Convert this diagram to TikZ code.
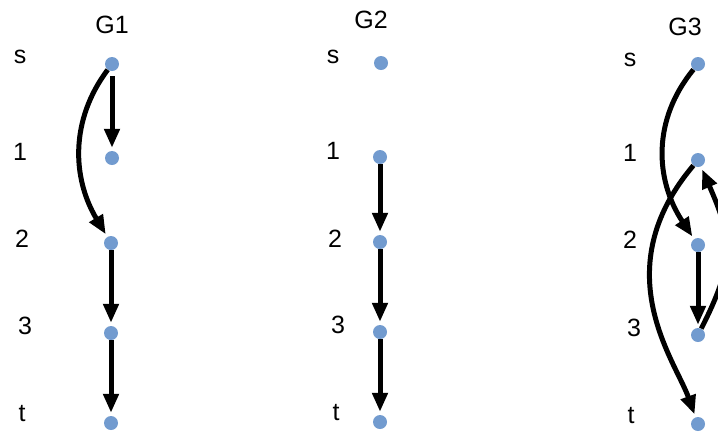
\documentclass[tikz,border=0pt]{standalone}
\usepackage{fontspec}
\setmainfont{Liberation Sans}
\usetikzlibrary{arrows.meta}
\definecolor{dotblue}{RGB}{114,155,207}
\begin{document}
\begin{tikzpicture}[x=1bp,y=-1bp,
  dot/.style={circle,fill=dotblue,inner sep=0pt,minimum size=14bp},
  lbl/.style={font=\fontsize{25bp}{30bp}\selectfont,inner sep=0pt,anchor=center},
  edge/.style={line width=5bp,-{Triangle[length=19bp,width=15bp]},shorten >=3bp}]
\useasboundingbox (0,0) rectangle (718,432);
% G1
\node[lbl] (g1) at (112,25) {G1};
\node[lbl] (l1s) at (20,57) {s};
\node[lbl] (l11) at (20,152) {1};
\node[lbl] (l12) at (22,239) {2};
\node[lbl] (l13) at (25,326) {3};
\node[lbl] (l1t) at (22,414) {t};
\node[dot] (as) at (112,64) {};
\node[dot] (a1) at (112,158) {};
\node[dot] (a2) at (111,243) {};
\node[dot] (a3) at (111,333) {};
\node[dot] (at) at (111,423) {};
\draw[edge,shorten <=5bp] (as) -- (a1);
\draw[edge] (as) .. controls (70,120) and (72,178) .. (a2);
\draw[edge] (a2) -- (a3);
\draw[edge] (a3) -- (at);
% G2
\node[lbl] (g2) at (371,20) {G2};
\node[lbl] (l2s) at (333,57) {s};
\node[lbl] (l21) at (333,151) {1};
\node[lbl] (l22) at (335,239) {2};
\node[lbl] (l23) at (338,325) {3};
\node[lbl] (l2t) at (336,413) {t};
\node[dot] (bs) at (381,63) {};
\node[dot] (b1) at (380,157) {};
\node[dot] (b2) at (380,242) {};
\node[dot] (b3) at (380,332) {};
\node[dot] (bt) at (380,422) {};
\draw[edge] (b1) -- (b2);
\draw[edge] (b2) -- (b3);
\draw[edge] (b3) -- (bt);
% G3
\node[lbl] (g3) at (685,27) {G3};
\node[lbl] (l3s) at (630,60) {s};
\node[lbl] (l31) at (630,153) {1};
\node[lbl] (l32) at (630,240) {2};
\node[lbl] (l33) at (634,328) {3};
\node[lbl] (l3t) at (631,416) {t};
\node[dot] (cs) at (698,64) {};
\node[dot] (c1) at (698,160) {};
\node[dot] (c2) at (698,245) {};
\node[dot] (c3) at (698,335) {};
\node[dot] (ct) at (698,424) {};
\draw[edge] (cs) .. controls (652,120) and (655,180) .. (c2);
\draw[edge] (c1) .. controls (605,270) and (675,360) .. (ct);
\draw[edge] (c2) -- (c3);
\draw[edge] (c3) .. controls (735,262) and (733,240) .. (c1);
\end{tikzpicture}
\end{document}
